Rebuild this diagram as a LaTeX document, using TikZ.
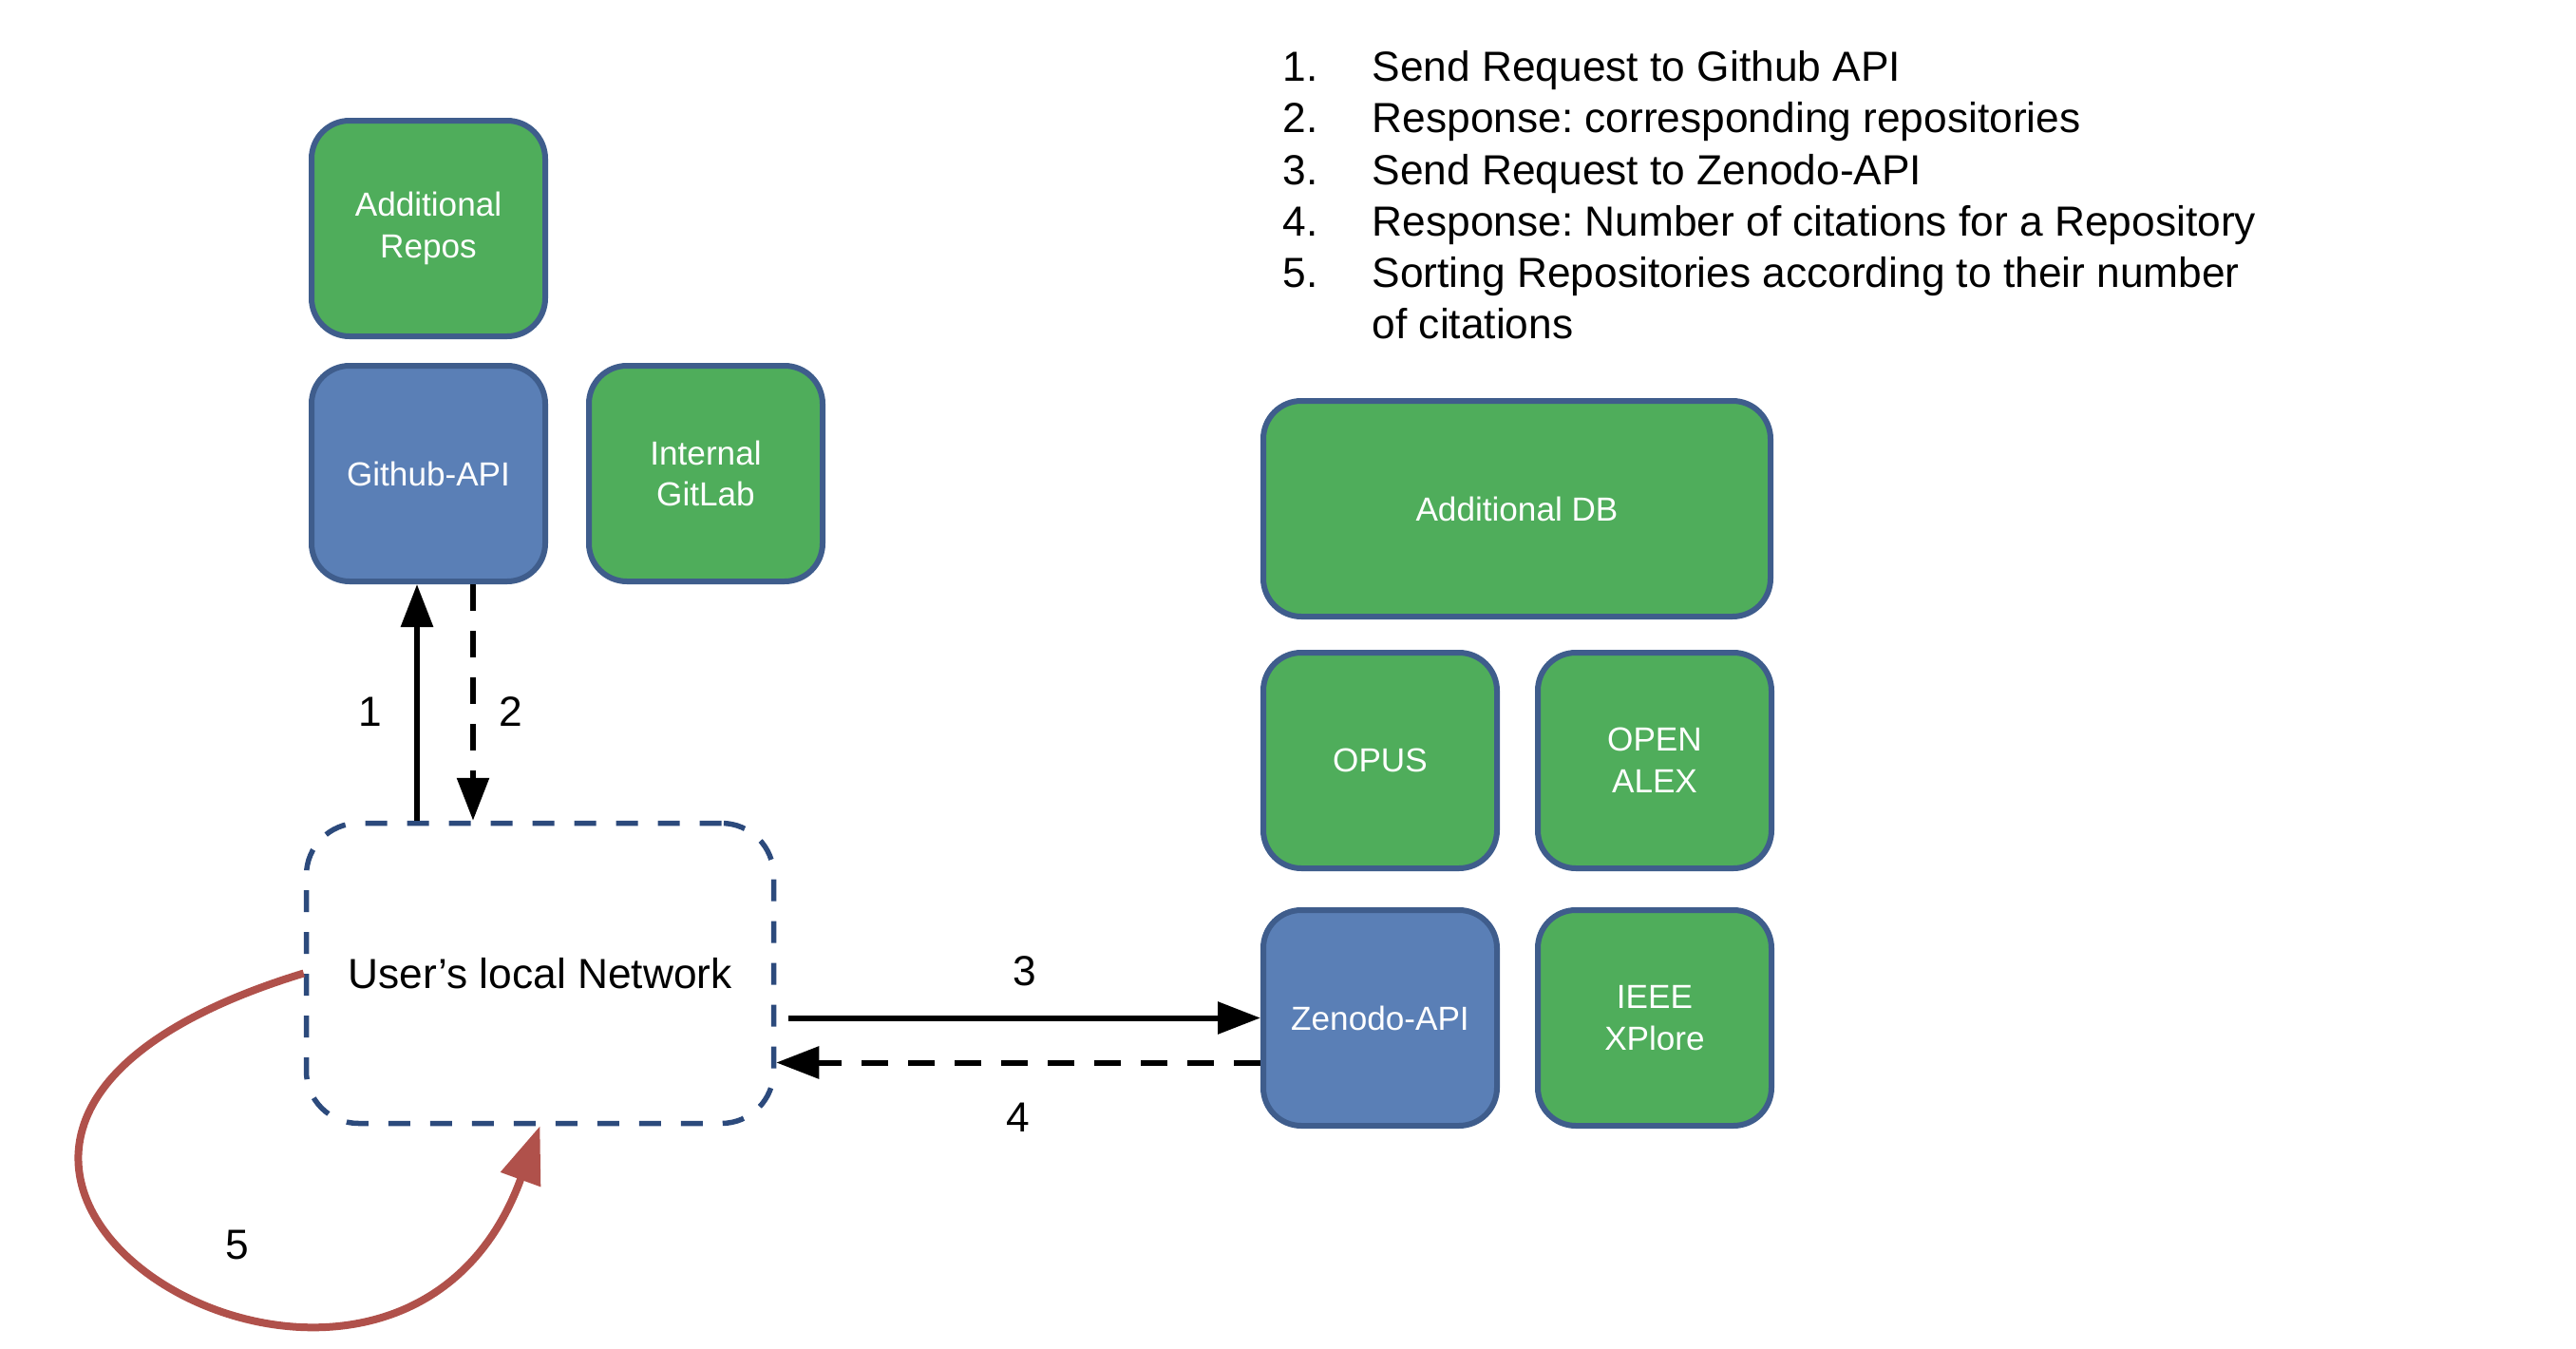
\documentclass[tikz,border=0pt]{standalone}
\usepackage{fontspec}
\setmainfont{Liberation Sans}
\usetikzlibrary{arrows.meta,positioning}
\definecolor{boxgreen}{HTML}{4FAD5B}
\definecolor{boxblue}{HTML}{5A7FB6}
\definecolor{boxline}{HTML}{3F5D8C}
\definecolor{netline}{HTML}{2C4A7C}
\definecolor{loopred}{HTML}{B0514B}
\tikzset{srcbox/.style={rounded corners=0.4cm,draw=boxline,line width=0.06cm,
  minimum width=2.46cm,minimum height=2.27cm,text=white,align=center,
  font=\fontsize{10}{12.4}\selectfont}}
\tikzset{greenbox/.style={srcbox,fill=boxgreen},bluebox/.style={srcbox,fill=boxblue}}
\tikzset{flow/.style={line width=0.06cm,-{Triangle[length=0.45cm,width=0.33cm]}}}
\tikzset{reply/.style={flow,dash pattern=on 0.28cm off 0.21cm}}
\tikzset{numlabel/.style={inner sep=0pt,text=black,font=\fontsize{12.6}{15}\selectfont}}

\begin{document}
\frenchspacing
\begin{tikzpicture}
\useasboundingbox (0,0) rectangle (27.12,-14.2);
% \draw[help lines] (0,0) grid (27,-14);
\node (github) [bluebox] at (4.51,-4.985) {Github-API};
\node (repos) [greenbox,above=0.25cm of github] {Additional\\Repos};
\node (gitlab) [greenbox,right=0.4cm of github] {Internal\\GitLab};
%
\node (zenodo) [bluebox] at (14.53,-10.715) {Zenodo-API};
\node (ieee) [greenbox,right=0.37cm of zenodo] {IEEE\\XPlore};
\node (opus) [greenbox,above=0.38cm of zenodo] {OPUS};
\node (openalex) [greenbox,right=0.37cm of opus] {OPEN\\ALEX};
\node (adddb) [greenbox,minimum width=5.34cm,above=0.32cm of opus.north west,anchor=south west] {Additional DB};
%
\node (user) [draw=netline,line width=0.055cm,dash pattern=on 0.23cm off 0.21cm,rounded corners=0.55cm,
  minimum width=4.92cm,minimum height=3.16cm,font=\fontsize{12.6}{15}\selectfont] at (5.685,-10.245) {User's local Network};
%
\node (steps) [anchor=north west,inner sep=0pt,align=left,font=\fontsize{12.6}{15.4}\selectfont] at (13.5,-0.53)
  {\makebox[0.94cm][l]{1.}Send Request to Github API\\
   \makebox[0.94cm][l]{2.}Response: corresponding repositories\\
   \makebox[0.94cm][l]{3.}Send Request to Zenodo-API\\
   \makebox[0.94cm][l]{4.}Response: Number of citations for a Repository\\
   \makebox[0.94cm][l]{5.}Sorting Repositories according to their number\\
   \hspace*{0.94cm}of citations};
%
\draw[flow] ([xshift=-0.12cm]github.south |- user.north) -- node[numlabel,left=0.34cm,yshift=-0.1cm] {1} ([xshift=-0.12cm]github.south);
\draw[reply] ([xshift=0.47cm]github.south) -- node[numlabel,right=0.24cm,yshift=-0.1cm] {2} ([xshift=0.47cm]github.south |- user.north);
\draw[flow] ([xshift=0.13cm]user.east |- zenodo.west) -- node[numlabel,above=0.31cm] {3} (zenodo.west);
\draw[reply] ([yshift=-0.47cm]zenodo.west) -- node[numlabel,below=0.4cm] {4} ([yshift=-0.47cm]zenodo.west -| user.east);
\draw[loopred,line width=0.08cm,-{Triangle[length=0.6cm,width=0.43cm]}] (user.west)
  .. controls +(-5.9,-1.8) and +(-1.6,-4.4) .. (user.south)
  node[numlabel,pos=0.5,xshift=0.87cm,yshift=0.27cm] {5};
\end{tikzpicture}
\end{document}
